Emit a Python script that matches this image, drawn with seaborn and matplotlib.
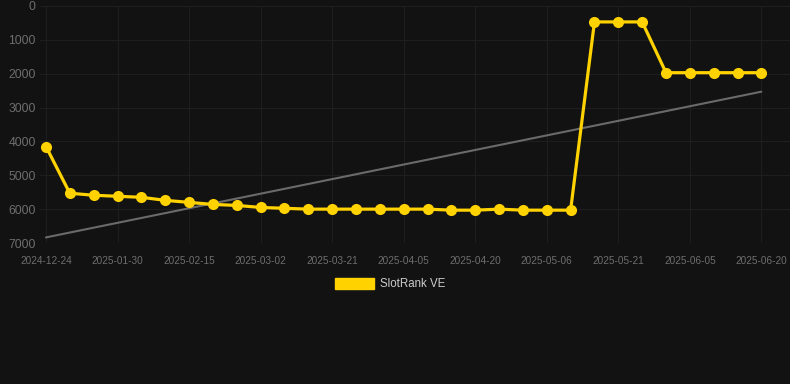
import numpy as np
import pandas as pd
import matplotlib
matplotlib.use("Agg")
import matplotlib.pyplot as plt
from matplotlib.patches import Patch
import seaborn as sns

# ---- data ----
positions = list(range(31))
rank_values = [4150, 5530, 5590, 5620, 5650, 5740, 5800, 5860, 5890, 5950, 5975,
               6000, 6000, 6000, 6000, 6000, 6000, 6030, 6030, 6000, 6030, 6030,
               6030, 470, 470, 470, 1970, 1970, 1970, 1970, 1970]
tick_labels = ["2024-12-24", "2025-01-30", "2025-02-15", "2025-03-02", "2025-03-21",
               "2025-04-05", "2025-04-20", "2025-05-06", "2025-05-21", "2025-06-05",
               "2025-06-20"]
y_ticks = [0, 1000, 2000, 3000, 4000, 5000, 6000, 7000]
series_name = "SlotRank VE"

df = pd.DataFrame({"pos": positions, "rank": rank_values})

BG = "#121212"
GRID = "#1e1e1e"
TXT = "#6e6e6e"
YEL = "#FFD200"
TREND = "#6a6a6a"

sns.set_theme(style="dark")
plt.rcParams["font.family"] = ["Liberation Sans", "DejaVu Sans"]

fig = plt.figure(figsize=(7.9, 3.84), dpi=100, facecolor=BG)
ax = fig.add_axes([40 / 790, 1 - 243 / 384, (790 - 40) / 790, (243 - 6) / 384])
ax.set_facecolor(BG)

sns.regplot(data=df, x="pos", y="rank", scatter=False, ci=None, ax=ax,
            line_kws=dict(color=TREND, lw=1.5, zorder=2))
sns.lineplot(data=df, x="pos", y="rank", ax=ax, color=YEL, lw=2.3,
             marker="o", markersize=8, markeredgewidth=0, zorder=3)

ax.set_ylim(7000, 0)
ax.set_xlim(-0.25, 31.2)
ax.set_yticks(y_ticks)
ax.set_yticklabels([str(v) for v in y_ticks])
ax.set_xticks(positions[::3])
ax.set_xticklabels(tick_labels)
ax.tick_params(axis="y", colors=TXT, labelsize=8.7, length=0, pad=3)
ax.tick_params(axis="x", colors=TXT, labelsize=7.2, length=0, pad=9)
ax.grid(True, color=GRID, lw=0.8)
for s in ax.spines.values():
    s.set_visible(False)
ax.set_xlabel("")
ax.set_ylabel("")

handle = Patch(facecolor=YEL, edgecolor=YEL, label=series_name)
leg = fig.legend(handles=[handle], loc="center", bbox_to_anchor=(390 / 790, 1 - 284 / 384),
                 frameon=False, fontsize=8.3, handlelength=3.4, handleheight=1.1,
                 handletextpad=0.55, labelcolor="#cccccc")

fig.savefig("out.png", dpi=100, facecolor=BG)
